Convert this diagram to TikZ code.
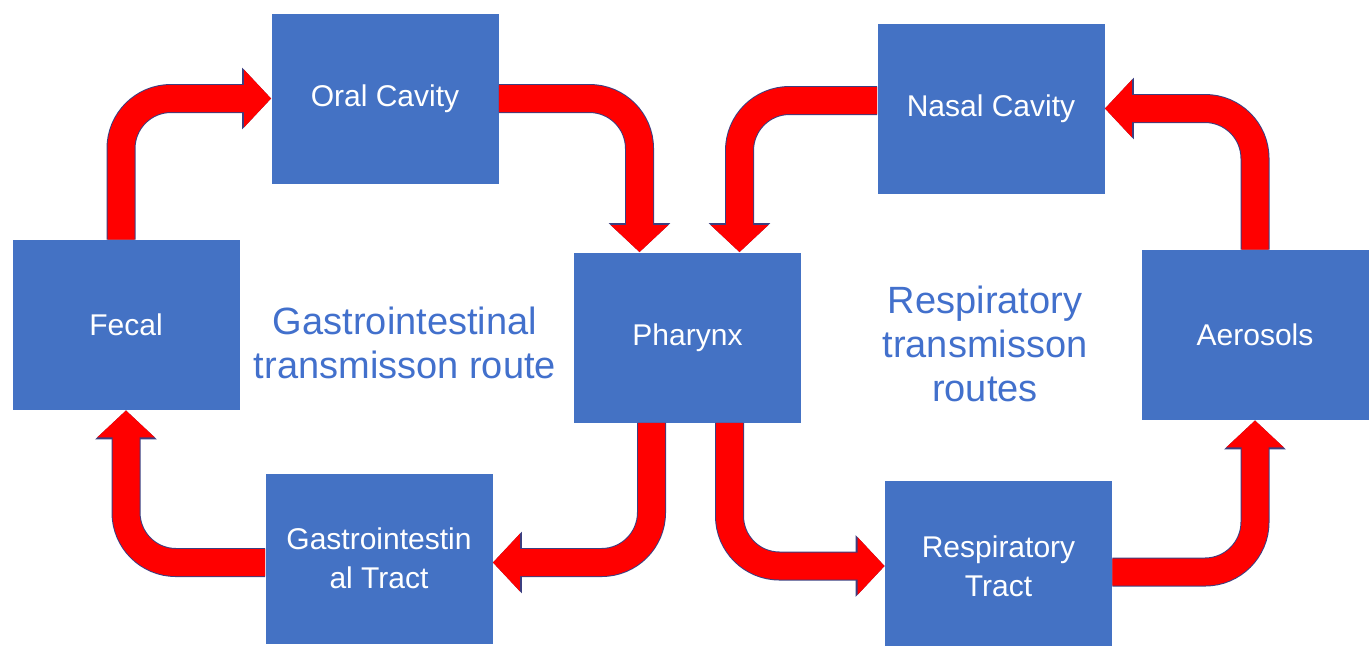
\documentclass[tikz,border=0pt]{standalone}
\usepackage{fontspec}
\setmainfont{Liberation Sans}
\usetikzlibrary{arrows.meta}

\definecolor{boxblue}{HTML}{4472C4}
\definecolor{titleblue}{HTML}{4270CC}
\definecolor{arrowred}{HTML}{FF0000}
\definecolor{arrowrim}{HTML}{3C3F80}

\tikzset{
  stage/.style={fill=boxblue,text=white,minimum width=113.5pt,minimum height=85pt,
    inner sep=0pt,align=center,font=\fontsize{15}{19.5}\selectfont},
  route/.style={text=titleblue,align=center,font=\fontsize{19}{22}\selectfont},
  flow/.style={line width=13.5pt,arrowred,rounded corners=25pt,
    -{Triangle[width=28pt,length=13.5pt]},
    preaction={draw=arrowrim,line width=14.5pt,-{Triangle[width=30pt,length=14.5pt]}}},
}

\begin{document}
\begin{tikzpicture}[x=0.5pt,y=-0.5pt]
\clip (0,0) rectangle (1369,645);
% stages
\node[stage] (fecal) at (126,325) {Fecal};
\node[stage] (oral) at (385,98.5) {Oral Cavity};
\node[stage] (pharynx) at (687.5,337.5) {Pharynx};
\node[stage] (gi) at (379,558.5) {Gastrointestin\\al Tract};
\node[stage] (nasal) at (991,108.5) {Nasal Cavity};
\node[stage] (aero) at (1255,335) {Aerosols};
\node[stage] (resp) at (998.5,566) {Respiratory\\Tract};
% route titles
\node[route] (gitext) at (405,343) {Gastrointestinal\\transmisson route};
\node[route] (resptext) at (985,344) {Respiratory\\transmisson\\routes};
% gastrointestinal loop
\draw[flow] ([xshift=-2.5pt]fecal.north) |- (oral.west);
\draw[flow] (oral.east) -| ([xshift=-24pt]pharynx.north);
\draw[flow] ([xshift=-18pt]pharynx.south) |- ([yshift=-2pt]gi.east);
\draw[flow] ([yshift=-2pt]gi.west) -| (fecal.south);
% respiratory loop
\draw[flow] ([xshift=21pt]pharynx.south) |- (resp.west);
\draw[flow] ([yshift=-3pt]resp.east) -| (aero.south);
\draw[flow] (aero.north) |- (nasal.east);
\draw[flow] ([yshift=4pt]nasal.west) -| ([xshift=26pt]pharynx.north);
\end{tikzpicture}
\end{document}
